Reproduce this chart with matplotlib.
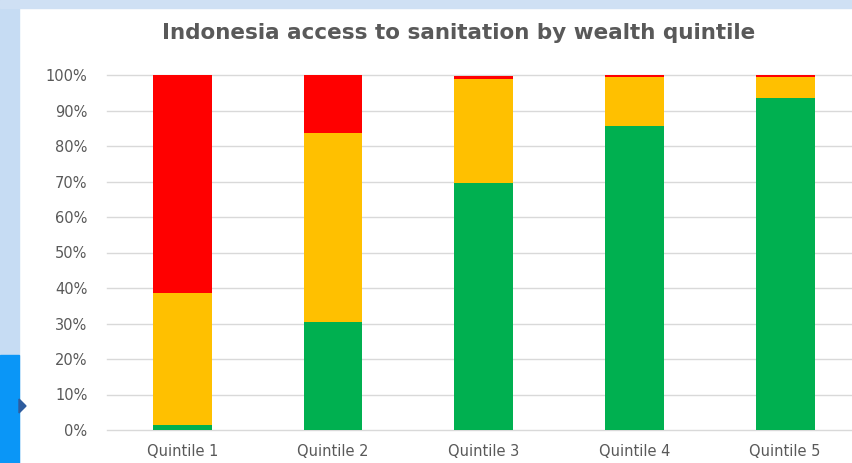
import matplotlib
matplotlib.use("Agg")
import matplotlib.pyplot as plt
from matplotlib.patches import Rectangle, Polygon
import numpy as np

# Data (shares of households)
quintiles = ["Quintile 1", "Quintile 2", "Quintile 3", "Quintile 4", "Quintile 5"]
improved = [0.015, 0.304, 0.696, 0.856, 0.935]
limited = [0.371, 0.533, 0.293, 0.139, 0.060]
unimproved = [0.614, 0.163, 0.008, 0.005, 0.005]

green = "#00B050"
yellow = "#FFC000"
red = "#FF0000"
text_col = "#595959"

W, H = 852, 463
fig = plt.figure(figsize=(W / 100, H / 100), dpi=100, facecolor="white")

# slide background around the chart
fig.patches.append(Rectangle((0, 0), 19 / W, 1, transform=fig.transFigure,
                             color="#c6dcf3", zorder=0))
fig.patches.append(Rectangle((0, (H - 8) / H), 1, 8 / H, transform=fig.transFigure,
                             color="#cfe0f4", zorder=0))
fig.patches.append(Rectangle((0, 0), 19 / W, (H - 355) / H, transform=fig.transFigure,
                             color="#0a96f7", zorder=1))
fig.patches.append(Polygon([(19 / W, (H - 399) / H), (19 / W, (H - 413) / H),
                            (26 / W, (H - 406) / H)], closed=True,
                           transform=fig.transFigure, color="#2e5c9e", zorder=2))

# axes placement in pixels
left_px, zero_px, hundred_px = 107, 430, 75
cat_w = 150.7
top_frac = 1.01
ax_h = (zero_px - hundred_px) * top_frac
ax = fig.add_axes([left_px / W, (H - zero_px) / H, (W - left_px) / W, ax_h / H])
ax.set_facecolor("white")

x = np.arange(len(quintiles))
bw = 0.39
ax.bar(x, improved, bw, color=green, zorder=3)
ax.bar(x, limited, bw, bottom=improved, color=yellow, zorder=3)
bottom2 = np.array(improved) + np.array(limited)
ax.bar(x, unimproved, bw, bottom=bottom2, color=red, zorder=3)

ax.set_xlim(-0.5, -0.5 + (W - left_px) / cat_w)
ax.set_ylim(0, top_frac)
yt = np.arange(0, 1.01, 0.1)
ax.set_yticks(yt)
ax.set_yticklabels([f"{int(round(v * 100))}%" for v in yt])
ax.set_xticks(x)
ax.set_xticklabels(quintiles)
ax.yaxis.grid(True, color="#d9d9d9", linewidth=1.0, zorder=0)
for gl in ax.get_ygridlines():
    gl.set_clip_on(False)
ax.set_axisbelow(True)
for s in ax.spines.values():
    s.set_visible(False)
ax.tick_params(axis="y", length=0, pad=14, labelsize=10.5, labelcolor=text_col)
ax.tick_params(axis="x", length=0, pad=10, labelsize=10.5, labelcolor=text_col)

fig.text(459 / W, (H - 33) / H, "Indonesia access to sanitation by wealth quintile",
         ha="center", va="center", fontsize=15.5, fontweight="bold", color=text_col)

fig.savefig("out.png", dpi=100, facecolor=fig.get_facecolor())
